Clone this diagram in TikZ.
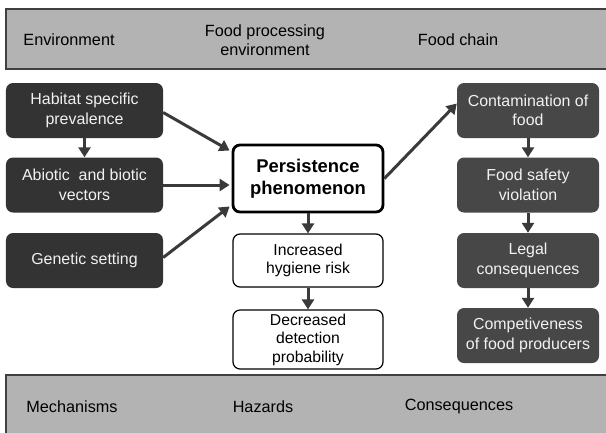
\documentclass[tikz,border=0pt]{standalone}
\usepackage{fontspec}
\setmainfont{Liberation Sans}
\usetikzlibrary{arrows.meta}
\definecolor{barfill}{HTML}{B3B3B3}
\definecolor{barline}{HTML}{404040}
\definecolor{leftfill}{HTML}{333333}
\definecolor{rightfill}{HTML}{474747}
\definecolor{arrowcol}{HTML}{3A3A3A}
\definecolor{boxtext}{HTML}{F2F2F2}
\begin{document}
\begin{tikzpicture}[x=1bp,y=-1bp,
  bar/.style={draw=barline,line width=2bp,fill=barfill},
  hdr/.style={font=\fontsize{16.3}{19.5}\selectfont,align=center,text=black},
  darkbox/.style={rectangle,rounded corners=7bp,minimum height=55bp,inner sep=0pt,align=center,text=boxtext,font=\fontsize{16}{19.5}\selectfont},
  lbox/.style={darkbox,fill=leftfill,minimum width=157bp},
  rbox/.style={darkbox,fill=rightfill,minimum width=142bp},
  wbox/.style={rectangle,rounded corners=7bp,draw=black,line width=1.2bp,fill=white,minimum width=150bp,inner sep=0pt,align=center,font=\fontsize{15.8}{18.5}\selectfont},
  arr/.style={draw=arrowcol,line width=3bp,-{Triangle[length=10bp,width=12bp]}}]
\useasboundingbox (0,0) rectangle (606,432);
\clip (0,0) rectangle (606,432);
% bars
\draw[bar] (6,9) rectangle (640,69);
\draw[bar] (6,375) rectangle (640,460);
\node[hdr] (tenv) at (69,40) {Environment};
\node[hdr] (tfpe) at (265,40) {Food processing\\environment};
\node[hdr] (tfc) at (458,40) {Food chain};
\node[hdr] (bmech) at (72,407) {Mechanisms};
\node[hdr] (bhaz) at (263,407) {Hazards};
\node[hdr] (bcon) at (459,407) {Consequences};
% left
\node[lbox] (a1) at (84.5,110.5) {Habitat specific\\prevalence};
\node[lbox] (a2) at (84.5,185) {Abiotic~ and biotic\\vectors};
\node[lbox] (a3) at (84.5,260.5) {Genetic setting};
% center
\node[wbox,line width=2.8bp,minimum height=67bp,font=\fontsize{18.5}{22}\selectfont\bfseries] (P) at (308,178.5) {Persistence\\phenomenon};
\node[wbox,minimum height=53bp] (hy) at (308,260.5) {Increased\\hygiene risk};
\node[wbox,minimum height=59bp] (de) at (308,339.5) {Decreased\\detection\\probability};
% right
\node[rbox] (c1) at (528,110.5) {Contamination of\\food};
\node[rbox] (c2) at (528,185) {Food safety\\violation};
\node[rbox] (c3) at (528,260.5) {Legal\\consequences};
\node[rbox] (c4) at (528,335.5) {Competiveness\\of food producers};
% arrows
\draw[arr] (a1.south) -- (a2.north);
\draw[arr] ([yshift=-2bp]a1.east) -- ([xshift=-2bp,yshift=28bp]P.west);
\draw[arr] (a2.east) -- ([xshift=-2bp]P.west |- a2.east);
\draw[arr] ([yshift=3bp]a3.east) -- ([xshift=-2bp,yshift=-28bp]P.west);
\draw[arr] (P.south) -- (hy.north);
\draw[arr] (hy.south) -- (de.north);
\draw[arr] (P.east) -- ([yshift=7bp]c1.west);
\draw[arr] (c1.south) -- (c2.north);
\draw[arr] (c2.south) -- (c3.north);
\draw[arr] (c3.south) -- (c4.north);
\end{tikzpicture}
\end{document}
